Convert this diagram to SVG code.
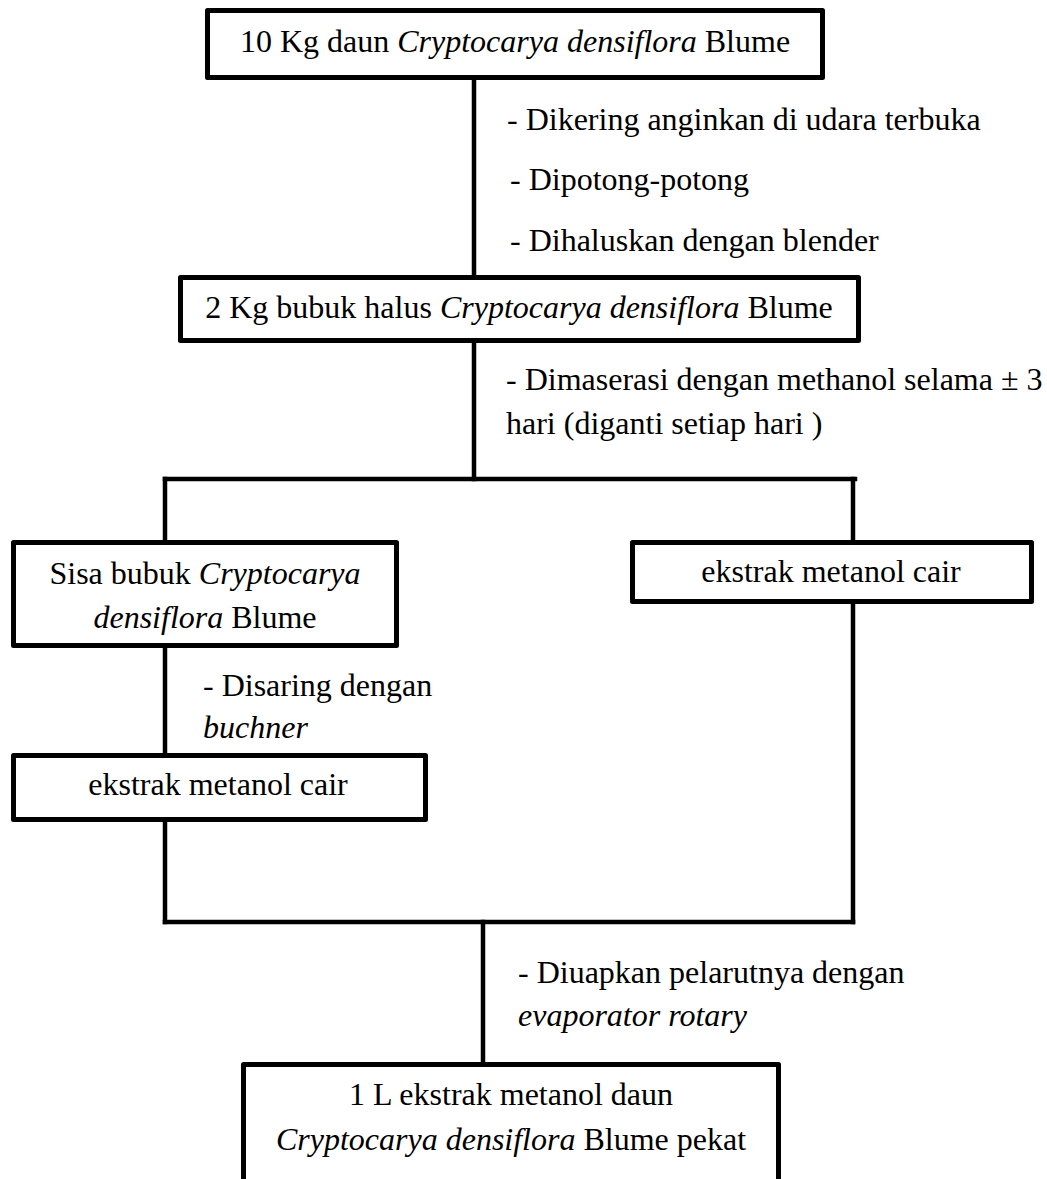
<svg xmlns="http://www.w3.org/2000/svg" width="1047" height="1179" viewBox="0 0 1047 1179">
  <style>
    .box { fill: #ffffff; stroke: #000000; stroke-width: 5; stroke-linejoin: round; }
    .wire { fill: none; stroke: #000000; stroke-width: 4.5; stroke-linecap: square; }
    text { font-family: "Liberation Serif", "Times New Roman", serif; font-size: 32px; fill: #000000; }
    .c { text-anchor: middle; }
    .i { font-style: italic; }
  </style>
  <rect width="1047" height="1179" fill="#ffffff"/>

  <!-- connectors -->
  <g id="connectors">
    <line class="wire" x1="474" y1="80" x2="474" y2="276"/>
    <line class="wire" x1="474" y1="342" x2="474" y2="479"/>
    <line class="wire" x1="165" y1="479" x2="855" y2="479"/>
    <line class="wire" x1="165" y1="479" x2="165" y2="541"/>
    <line class="wire" x1="853" y1="479" x2="853" y2="541"/>
    <line class="wire" x1="165" y1="647" x2="165" y2="754"/>
    <line class="wire" x1="165" y1="821" x2="165" y2="922"/>
    <line class="wire" x1="853" y1="603" x2="853" y2="922"/>
    <line class="wire" x1="165" y1="922" x2="853" y2="922"/>
    <line class="wire" x1="483" y1="922" x2="483" y2="1063"/>
  </g>

  <!-- step labels -->
  <g id="labels">
    <text x="507" y="130">- Dikering anginkan di udara terbuka</text>
    <text x="510" y="190">- Dipotong-potong</text>
    <text x="510" y="251">- Dihaluskan dengan blender</text>
    <text x="506" y="390">- Dimaserasi dengan methanol selama ± 3</text>
    <text x="506" y="434">hari (diganti setiap hari )</text>
    <text x="203" y="696">- Disaring dengan</text>
    <text x="203" y="738" class="i">buchner</text>
    <text x="518" y="983">- Diuapkan pelarutnya dengan</text>
    <text x="518" y="1026" class="i">evaporator rotary</text>
  </g>

  <g id="leaves">
    <rect class="box" x="207.5" y="10.5" width="615" height="67"/>
    <text class="c" x="515" y="52">10 Kg daun <tspan class="i">Cryptocarya densiflora</tspan> Blume</text>
  </g>

  <g id="powder">
    <rect class="box" x="180.5" y="277.5" width="678" height="63"/>
    <text class="c" x="519" y="318">2 Kg bubuk halus <tspan class="i">Cryptocarya densiflora</tspan> Blume</text>
  </g>

  <g id="residue">
    <rect class="box" x="13.5" y="542.5" width="383" height="103"/>
    <text class="c" x="205" y="584">Sisa bubuk <tspan class="i">Cryptocarya</tspan></text>
    <text class="c" x="205" y="628"><tspan class="i">densiflora</tspan> Blume</text>
  </g>

  <g id="extract-right">
    <rect class="box" x="632.5" y="542.5" width="399" height="59"/>
    <text class="c" x="831" y="582">ekstrak metanol cair</text>
  </g>

  <g id="extract-left">
    <rect class="box" x="13.5" y="755.5" width="412" height="64"/>
    <text class="c" x="218" y="795">ekstrak metanol cair</text>
  </g>

  <g id="concentrate">
    <rect class="box" x="243.5" y="1064.5" width="535" height="150"/>
    <text class="c" x="511" y="1105">1 L ekstrak metanol daun</text>
    <text class="c" x="511" y="1150"><tspan class="i">Cryptocarya densiflora</tspan> Blume pekat</text>
  </g>
</svg>
